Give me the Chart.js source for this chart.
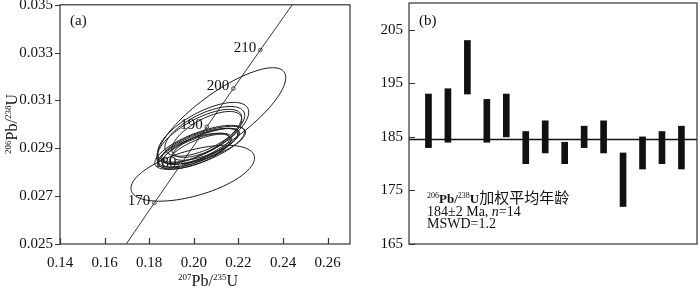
<!DOCTYPE html>
<html>
<head>
<meta charset="utf-8">
<script src="https://cdn.jsdelivr.net/npm/chart.js@4.4.1/dist/chart.umd.min.js"></script>
<style>
html,body{margin:0;padding:0;background:#fff;}
#wrap{position:relative;width:700px;height:288px;overflow:hidden;}
#left{position:absolute;left:0;top:0;}
#right{position:absolute;left:360px;top:0;}
</style>
</head>
<body>
<div id="wrap">
<canvas id="left" width="355" height="288"></canvas>
<canvas id="right" width="340" height="288"></canvas>
</div>
<script>
// ---------------------------
// DATA (a) concordia diagram
// ---------------------------
const xTicksA = [0.14, 0.16, 0.18, 0.20, 0.22, 0.24, 0.26];
const yTicksA = [0.025, 0.027, 0.029, 0.031, 0.033, 0.035];

// concordia line, 207Pb/235U vs 206Pb/238U
const concordiaX = [0.1697, 0.1823, 0.1940, 0.2058, 0.2177, 0.2298, 0.2441];
const concordiaY = [0.0250, 0.02672, 0.02830, 0.02990, 0.03150, 0.03311, 0.0350];

// age marks on the concordia
const ageLabels = ['170', '180', '190', '200', '210'];
const ageX = [0.1823, 0.1940, 0.2058, 0.2177, 0.2298];
const ageY = [0.02672, 0.02830, 0.02990, 0.03150, 0.03311];

// error ellipses: centre, half width, half height, correlation
const ellCx  = [0.2123, 0.1995, 0.2026, 0.2017, 0.2035, 0.2013, 0.2044, 0.2026, 0.2004, 0.2053, 0.2042, 0.2049, 0.2058, 0.2026];
const ellCy  = [0.03029, 0.02796, 0.02904, 0.0290, 0.02908, 0.02892, 0.02913, 0.02896, 0.02888, 0.02917, 0.02967, 0.02971, 0.02958, 0.0295];
const ellSx  = [0.0289, 0.0277, 0.0201, 0.0179, 0.0170, 0.0157, 0.0188, 0.0134, 0.0161, 0.0148, 0.0204, 0.0179, 0.0157, 0.0188];
const ellSy  = [0.00208, 0.00117, 0.00092, 0.00083, 0.00075, 0.00071, 0.00079, 0.00063, 0.00075, 0.00067, 0.00125, 0.00104, 0.00096, 0.00113];
const ellRho = [0.80, 0.54, 0.70, 0.72, 0.75, 0.70, 0.68, 0.72, 0.65, 0.70, 0.67, 0.64, 0.65, 0.70];

// ---------------------------
// DATA (b) weighted mean age
// ---------------------------
const spotNo   = [1, 2, 3, 4, 5, 6, 7, 8, 9, 10, 11, 12, 13, 14];
const ageLow   = [183, 184, 193, 184, 185, 180, 182, 180, 183, 182, 172, 179, 180, 179];
const ageHigh  = [193, 194, 203, 192, 193, 186, 188, 184, 187, 188, 182, 185, 186, 187];
const meanAge  = 184.5;
const yTicksB  = [165, 175, 185, 195, 205];

const SERIF = '"Liberation Serif", "Times New Roman", serif';
const CJK = '"Noto Sans CJK SC", sans-serif';
Chart.defaults.font.family = SERIF;
Chart.defaults.font.size = 15;
Chart.defaults.color = '#111';

// draw a run of text pieces: [text, font, raise]
function richText(ctx, x, y, parts, align){
    let w = 0;
    parts.forEach(p => { ctx.font = p[1]; w += ctx.measureText(p[0]).width; });
    let cx = align === 'center' ? x - w / 2 : x;
    ctx.textAlign = 'left';
    parts.forEach(p => {
        ctx.font = p[1];
        ctx.fillText(p[0], cx, y - (p[2] || 0));
        cx += ctx.measureText(p[0]).width;
    });
}

function noPad(scale){
    scale.paddingTop = 0; scale.paddingBottom = 0;
    scale.paddingLeft = 0; scale.paddingRight = 0;
}

// ---------------------------
// PANEL (a)
// ---------------------------
const ellipsePlugin = {
    id: 'ellipses',
    beforeDatasetsDraw(chart){
        const {ctx, chartArea: a, scales: {x, y}} = chart;
        ctx.save();
        ctx.beginPath();
        ctx.rect(a.left, a.top, a.right - a.left, a.bottom - a.top);
        ctx.clip();
        ctx.strokeStyle = '#1a1a1a';
        ctx.lineWidth = 1;
        for(let i = 0; i < ellCx.length; i++){
            const r = ellRho[i], q = Math.sqrt(1 - r * r);
            ctx.beginPath();
            for(let k = 0; k <= 96; k++){
                const t = k / 96 * Math.PI * 2;
                const vx = ellCx[i] + ellSx[i] * Math.cos(t);
                const vy = ellCy[i] + ellSy[i] * (r * Math.cos(t) + q * Math.sin(t));
                const px = x.getPixelForValue(vx), py = y.getPixelForValue(vy);
                if(k === 0) ctx.moveTo(px, py); else ctx.lineTo(px, py);
            }
            ctx.closePath();
            ctx.stroke();
        }
        ctx.restore();
    }
};

const frameA = {
    id: 'frameA',
    afterDraw(chart){
        const {ctx, chartArea: a, scales: {x, y}} = chart;
        ctx.save();
        ctx.strokeStyle = '#333';
        ctx.lineWidth = 1.2;
        ctx.strokeRect(a.left, a.top, a.right - a.left, a.bottom - a.top);
        ctx.beginPath();
        xTicksA.forEach(v => {
            const px = Math.round(x.getPixelForValue(v)) + 0.5;
            ctx.moveTo(px, a.bottom); ctx.lineTo(px, a.bottom - 6);
        });
        yTicksA.forEach(v => {
            const py = Math.round(y.getPixelForValue(v)) + 0.5;
            ctx.moveTo(a.left, py); ctx.lineTo(a.left - 5, py);
        });
        ctx.stroke();

        // age labels next to the marks
        ctx.fillStyle = '#111';
        ctx.font = '15px ' + SERIF;
        ctx.textAlign = 'right';
        ctx.textBaseline = 'middle';
        ageLabels.forEach((s, i) => {
            ctx.fillText(s, x.getPixelForValue(ageX[i]) - 4, y.getPixelForValue(ageY[i]) - 2);
        });

        ctx.textBaseline = 'alphabetic';
        ctx.textAlign = 'left';
        ctx.fillText('(a)', a.left + 10, 25);

        // axis titles
        const big = '16px ' + SERIF, sup = '9px ' + SERIF;
        richText(ctx, (a.left + a.right) / 2 + 3, 286,
            [['207', sup, 6], ['Pb/', big], ['235', sup, 6], ['U', big]], 'center');
        ctx.translate(17, 124);
        ctx.rotate(-Math.PI / 2);
        richText(ctx, 0, 0,
            [['206', sup, 6], ['Pb/', big], ['238', sup, 6], ['U', big]], 'center');
        ctx.restore();
    }
};

new Chart(document.getElementById('left'), {
    type: 'scatter',
    data: {
        datasets: [{
            data: concordiaX.map((v, i) => ({x: v, y: concordiaY[i]})),
            showLine: true,
            borderColor: '#222',
            borderWidth: 0.9,
            pointRadius: 0
        }, {
            data: ageX.map((v, i) => ({x: v, y: ageY[i]})),
            pointRadius: 1.8,
            pointBorderWidth: 0.8,
            pointBorderColor: '#222',
            pointBackgroundColor: '#fff'
        }]
    },
    options: {
        animation: false,
        responsive: false,
        layout: {padding: {top: 4, right: 5, left: 0, bottom: 0}},
        plugins: {legend: {display: false}, tooltip: {enabled: false}},
        scales: {
            x: {
                type: 'linear', min: 0.14, max: 0.27,
                grid: {display: false, drawTicks: false}, border: {display: false},
                afterBuildTicks: s => { s.ticks = xTicksA.map(v => ({value: v})); },
                afterFit: s => { s.height = 44; noPad(s); },
                ticks: {padding: 10, maxRotation: 0, autoSkip: false, callback: v => v.toFixed(2)}
            },
            y: {
                type: 'linear', min: 0.025, max: 0.035,
                grid: {display: false, drawTicks: false}, border: {display: false},
                afterBuildTicks: s => { s.ticks = yTicksA.map(v => ({value: v})); },
                afterFit: s => { s.width = 60; noPad(s); },
                ticks: {padding: 7, autoSkip: false, callback: v => v.toFixed(3)}
            }
        }
    },
    plugins: [ellipsePlugin, frameA]
});

// ---------------------------
// PANEL (b)
// ---------------------------
const frameB = {
    id: 'frameB',
    afterDraw(chart){
        const {ctx, chartArea: a, scales: {y}} = chart;
        ctx.save();
        ctx.strokeStyle = '#333';
        ctx.lineWidth = 1.2;
        ctx.strokeRect(a.left, a.top, a.right - a.left, a.bottom - a.top);
        ctx.beginPath();
        yTicksB.forEach(v => {
            const py = Math.round(y.getPixelForValue(v)) + 0.5;
            ctx.moveTo(a.left, py); ctx.lineTo(a.left + 6, py);
        });
        ctx.stroke();

        ctx.fillStyle = '#111';
        ctx.textBaseline = 'alphabetic';
        ctx.font = '15px ' + SERIF;
        ctx.fillText('(b)', a.left + 10, 25);

        const f = '14px ' + SERIF, sup = '8px ' + SERIF, it = 'italic 14px ' + SERIF;
        const x0 = a.left + 18;
        richText(ctx, x0, 203, [['206', sup, 5], ['Pb/', 'bold 13px ' + SERIF], ['238', sup, 5],
            ['U', 'bold 13px ' + SERIF], ['加权平均年龄', '15px ' + CJK]]);
        richText(ctx, x0, 215.5, [['184±2 Ma, ', f], ['n', it], ['=14', f]]);
        richText(ctx, x0, 228, [['MSWD=1.2', f]]);
        ctx.restore();
    }
};

new Chart(document.getElementById('right'), {
    type: 'bar',
    data: {
        datasets: [{
            data: spotNo.map((n, i) => ({x: n, y: [ageLow[i], ageHigh[i]]})),
            backgroundColor: '#111',
            borderWidth: 0,
            barThickness: 6,
            order: 2
        }, {
            type: 'line',
            data: [{x: 0, y: meanAge}, {x: 14.8, y: meanAge}],
            borderColor: '#111',
            borderWidth: 1.6,
            pointRadius: 0,
            order: 1
        }]
    },
    options: {
        animation: false,
        responsive: false,
        layout: {padding: {top: 3, right: 3, left: 0, bottom: 44}},
        plugins: {legend: {display: false}, tooltip: {enabled: false}},
        scales: {
            x: {type: 'linear', min: 0, max: 14.8, display: false, offset: false},
            y: {
                type: 'linear', min: 165, max: 210,
                grid: {display: false, drawTicks: false}, border: {display: false},
                afterBuildTicks: s => { s.ticks = yTicksB.map(v => ({value: v})); },
                afterFit: s => { s.width = 49; noPad(s); },
                ticks: {padding: 6, autoSkip: false}
            }
        }
    },
    plugins: [frameB]
});
</script>
</body>
</html>
